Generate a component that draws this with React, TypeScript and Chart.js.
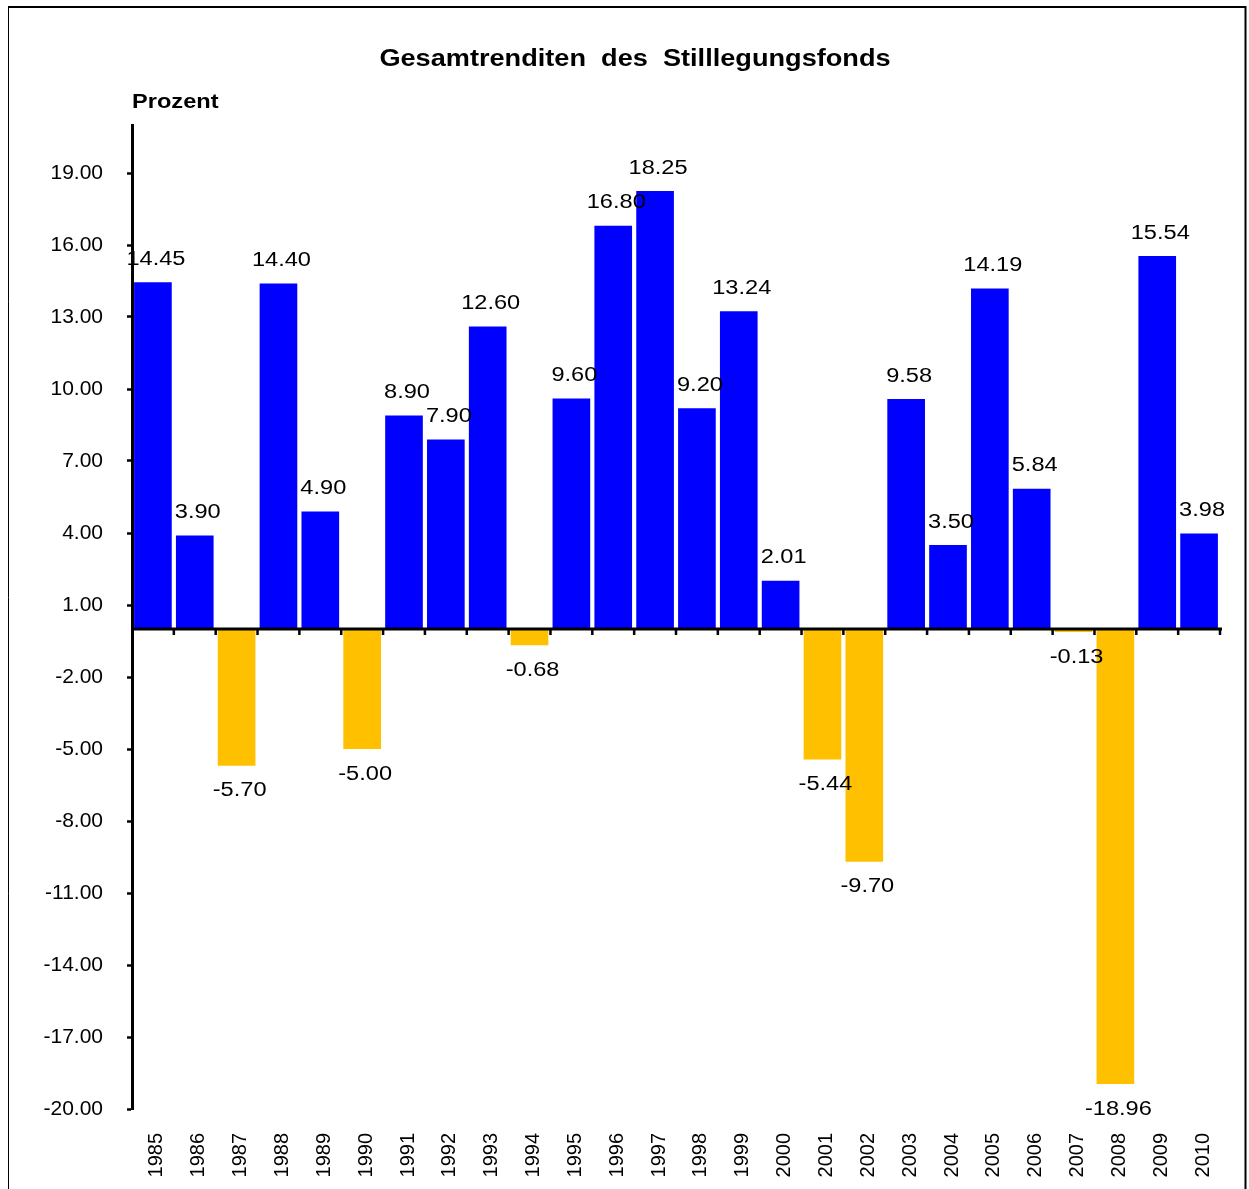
import { useEffect, useRef } from 'react';
import { Chart, registerables } from 'chart.js';

Chart.register(...registerables);

const years = ['1985','1986','1987','1988','1989','1990','1991','1992','1993','1994','1995','1996','1997','1998','1999','2000','2001','2002','2003','2004','2005','2006','2007','2008','2009','2010'];
const returns = [14.45, 3.90, -5.70, 14.40, 4.90, -5.00, 8.90, 7.90, 12.60, -0.68, 9.60, 16.80, 18.25, 9.20, 13.24, 2.01, -5.44, -9.70, 9.58, 3.50, 14.19, 5.84, -0.13, -18.96, 15.54, 3.98];
const yTicks = [-20, -17, -14, -11, -8, -5, -2, 1, 4, 7, 10, 13, 16, 19];
const yMin = -20;
const yMax = 21;
const TITLE = 'Gesamtrenditen  des  Stilllegungsfonds';
const UNIT = 'Prozent';

const POS_COLOR = '#0000FF';
const NEG_COLOR = '#FFC000';
const FONT = '"Liberation Sans", Arial, Helvetica, sans-serif';
const STRETCH = 1.18;

function stretchedText(ctx: CanvasRenderingContext2D, text: string, x: number, y: number, font: string, align: CanvasTextAlign) {
  ctx.save();
  ctx.font = font;
  ctx.textAlign = align;
  ctx.textBaseline = 'middle';
  ctx.fillStyle = '#000';
  ctx.translate(x, y);
  ctx.scale(STRETCH, 1);
  ctx.fillText(text, 0, 0);
  ctx.restore();
}

const decorPlugin = {
  id: 'decor',
  beforeDraw(chart: any) {
    const ctx = chart.ctx as CanvasRenderingContext2D;
    ctx.save();
    ctx.fillStyle = '#fff';
    ctx.fillRect(0, 0, chart.width, chart.height);
    ctx.strokeStyle = '#000';
    ctx.lineWidth = 2;
    ctx.beginPath();
    ctx.moveTo(8, 7);
    ctx.lineTo(1246, 7);
    ctx.moveTo(1245.5, 6);
    ctx.lineTo(1245.5, chart.height);
    ctx.stroke();
    ctx.lineWidth = 1;
    ctx.beginPath();
    ctx.moveTo(8.5, 6);
    ctx.lineTo(8.5, chart.height);
    ctx.stroke();
    ctx.restore();
  },
  afterDatasetsDraw(chart: any) {
    const ctx = chart.ctx as CanvasRenderingContext2D;
    const xs = chart.scales.x;
    const ys = chart.scales.y;
    const area = chart.chartArea;
    const y0 = ys.getPixelForValue(0);
    ctx.save();
    ctx.strokeStyle = '#000';
    ctx.lineWidth = 3;
    ctx.beginPath();
    ctx.moveTo(area.left, y0);
    ctx.lineTo(area.right + 2, y0);
    ctx.stroke();
    const cw = (area.right - area.left) / years.length;
    ctx.lineWidth = 2.5;
    ctx.beginPath();
    for (let i = 1; i <= years.length; i++) {
      const x = xs.getPixelForValue(i - 1) + cw / 2;
      ctx.moveTo(x, y0);
      ctx.lineTo(x, y0 + 6);
    }
    ctx.stroke();
    ctx.restore();

    const meta = chart.getDatasetMeta(0);
    meta.data.forEach((el: any, i: number) => {
      const v = returns[i];
      const txt = v.toFixed(2);
      const y = v >= 0 ? el.y - 23 : el.y + 25;
      stretchedText(ctx, txt, el.x + 3, y, `20px ${FONT}`, 'center');
    });

    stretchedText(ctx, TITLE, 635, 60, `bold 23px ${FONT}`, 'center');
    stretchedText(ctx, UNIT, 132, 102, `bold 20px ${FONT}`, 'left');
  },
};

export default function App() {
  const ref = useRef<HTMLCanvasElement | null>(null);
  useEffect(() => {
    document.body.style.margin = '0';
    const canvas = ref.current!;
    const chart = new Chart(canvas, {
      type: 'bar',
      data: {
        labels: years,
        datasets: [
          {
            data: returns,
            backgroundColor: returns.map((v) => (v >= 0 ? POS_COLOR : NEG_COLOR)),
            borderWidth: 0,
            barPercentage: 0.9,
            categoryPercentage: 1,
          },
        ],
      },
      options: {
        animation: false,
        responsive: false,
        devicePixelRatio: 1,
        layout: { padding: { left: 0, top: 125, right: 29, bottom: 0 } },
        plugins: {
          legend: { display: false },
          title: { display: false },
          tooltip: { enabled: false },
        },
        scales: {
          x: {
            position: 'bottom',
            grid: { display: false, drawTicks: false },
            border: { display: false },
            ticks: {
              autoSkip: false,
              minRotation: 90,
              maxRotation: 90,
              padding: 24,
              labelOffset: 4,
              color: '#000',
              font: { family: FONT, size: 20 },
            },
            afterFit: (s: any) => {
              s.height = 80;
            },
          },
          y: {
            min: yMin,
            max: yMax,
            afterBuildTicks: (s: any) => {
              s.ticks = yTicks.map((v) => ({ value: v }));
            },
            grid: {
              display: true,
              drawOnChartArea: false,
              drawTicks: true,
              tickLength: 5,
              tickWidth: 2.5,
              tickColor: '#000',
            },
            border: { display: true, color: '#000', width: 3 },
            ticks: {
              padding: 24,
              color: '#000',
              font: { family: FONT, size: 21 },
              callback: (v: any) => Number(v).toFixed(2),
            },
            afterFit: (s: any) => {
              s.width = 132;
            },
          },
        },
      },
      plugins: [decorPlugin],
    });
    return () => chart.destroy();
  }, []);
  return (
    <canvas ref={ref} width={1249} height={1189} style={{ display: 'block', width: 1249, height: 1189 }} />
  );
}
